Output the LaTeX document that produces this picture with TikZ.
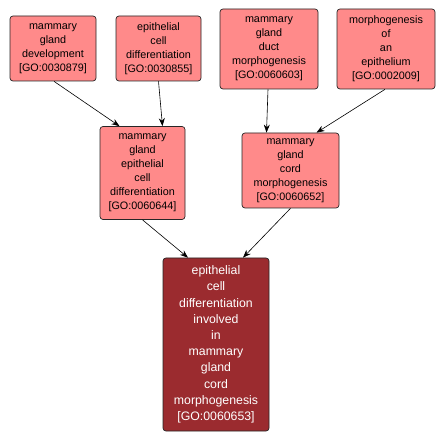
\documentclass[tikz,border=0pt]{standalone}
\usepackage{fontspec}
\setmainfont{Liberation Sans}
\usetikzlibrary{arrows.meta}
\definecolor{goterm}{HTML}{FF8A8A}
\definecolor{gofocus}{HTML}{9B2B2F}
\tikzset{
  term/.style  = {draw=black!85, fill=goterm, rounded corners=3pt, line width=0.7pt,
                  align=center, inner sep=0pt, font=\fontsize{10.8}{14}\selectfont},
  focus/.style = {term, fill=gofocus, text=white, font=\fontsize{12.3}{16.2}\selectfont},
  isa/.style   = {-{Stealth[length=8pt,width=6pt]}, line width=0.6pt},
}

\begin{document}
\begin{tikzpicture}[x=1pt,y=-1pt]
\useasboundingbox (0,0) rectangle (445,441);
% parent terms
\node[term, minimum width=86pt, minimum height=65pt] (mgdev) at (53,48.5)
   {mammary\\gland\\development\\{}[GO:0030879]};
\node[term, minimum width=85pt, minimum height=65pt] (ecdiff) at (158.5,48.5)
   {epithelial\\cell\\differentiation\\{}[GO:0030855]};
\node[term, minimum width=98pt, minimum height=80pt] (mgduct) at (269,49)
   {mammary\\gland\\duct\\morphogenesis\\{}[GO:0060603]};
\node[term, minimum width=98pt, minimum height=80pt] (epmorph) at (386,49)
   {morphogenesis\\of\\an\\epithelium\\{}[GO:0002009]};
% intermediate terms
\node[term, minimum width=85pt, minimum height=93pt] (mgecd) at (142.5,173)
   {mammary\\gland\\epithelial\\cell\\differentiation\\{}[GO:0060644]};
\node[term, minimum width=97pt, minimum height=75pt] (mgcord) at (290.5,170.5)
   {mammary\\gland\\cord\\morphogenesis\\{}[GO:0060652]};
% focus term
\node[focus, minimum width=106pt, minimum height=173pt] (target) at (216,344.5)
   {epithelial\\cell\\differentiation\\involved\\in\\mammary\\gland\\cord\\morphogenesis\\{}[GO:0060653]};

\draw[isa] ([xshift=1pt]mgdev.south) -- ([xshift=-23pt]mgecd.north);
\draw[isa] (ecdiff.south) -- ([xshift=20pt]mgecd.north);
\draw[isa] ([xshift=-1pt]mgduct.south) -- ([xshift=-24pt]mgcord.north);
\draw[isa] ([xshift=-1pt]epmorph.south) -- ([xshift=26pt]mgcord.north);
\draw[isa] (mgecd.south) -- ([xshift=-28pt]target.north);
\draw[isa] (mgcord.south) -- ([xshift=27pt]target.north);
\end{tikzpicture}
\end{document}
